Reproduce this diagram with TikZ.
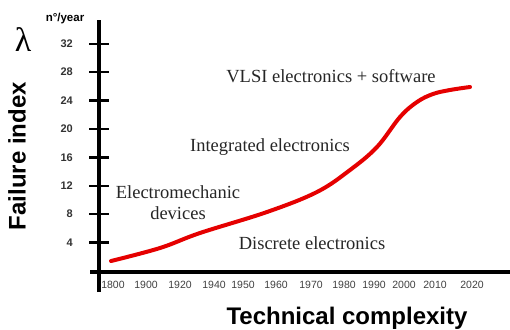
\documentclass[tikz,border=0pt]{standalone}
\usepackage{fontspec}
\setmainfont{Liberation Serif}
\setsansfont{Liberation Sans}
\usetikzlibrary{positioning}

\begin{document}
\begin{tikzpicture}[
    x=1pt, y=-1pt,
    axis/.style={line width=3.5pt},
    tickmark/.style={line width=2.5pt},
    ticklabel/.style={font=\sffamily\bfseries\fontsize{11}{11}\selectfont, text=black!80, anchor=east, inner sep=0pt},
    yearlabel/.style={font=\sffamily\fontsize{10.5}{11}\selectfont, text=black!75, inner sep=0pt},
    era/.style={font=\fontsize{18.5}{21}\selectfont, align=center, inner sep=0pt, text=black!85},
    axtitle/.style={font=\sffamily\bfseries\fontsize{24}{24}\selectfont, inner sep=0pt},
    curve/.style={red!90!black, line width=4pt, line cap=round}
]

\useasboundingbox (0,0) rectangle (510,329);

% Axes
\coordinate (ytop) at (99,20);
\coordinate (ybot) at (99,292);
\coordinate (xleft) at (90,272);
\coordinate (xright) at (510,272);
\draw[axis] (ybot) -- (ytop);
\draw[axis] (xleft) -- (xright);

% Y ticks
\foreach \v in {4,8,...,32} {
  \draw[tickmark] (89,{271-7.1*\v}) -- (109,{271-7.1*\v});
  \node[ticklabel] (tick\v) at (73,{271-7.1*\v}) {\v};
}

% Years
\foreach \yr/\px in {1800/113, 1900/146, 1920/180, 1940/214, 1950/243, 1960/276,
                     1970/311, 1980/344, 1990/374, 2000/404, 2010/435, 2020/472} {
  \node[yearlabel] (yr\yr) at (\px,285) {\yr};
}

% Axis titles
\node[font=\sffamily\bfseries\fontsize{11.5}{11.5}\selectfont, inner sep=0pt] (unit) at (65,19) {n°/year};
\node[font=\fontsize{34}{34}\selectfont, inner sep=0pt] (lambda) at (23,40) {λ};
\node[axtitle, rotate=90] (fidx) at (17,156) {Failure index};
\node[axtitle] (xtitle) at (347,318) {Technical complexity};

% Eras
\node[era] (vlsi) at (331,76) {VLSI electronics + software};
\node[era] (integ) at (270,147) {Integrated electronics};
\node[era] (emech) at (178,203) {Electromechanic\\devices};
\node[era] (discr) at (312,243) {Discrete electronics};

% Failure curve
\draw[curve] plot[smooth, tension=0.6] coordinates {(111,261) (160,248) (200,233)
  (267,212) (317,192) (350,170) (377,147) (400,117) (417,102) (433,94) (450,90) (470,87)};

\end{tikzpicture}
\end{document}
